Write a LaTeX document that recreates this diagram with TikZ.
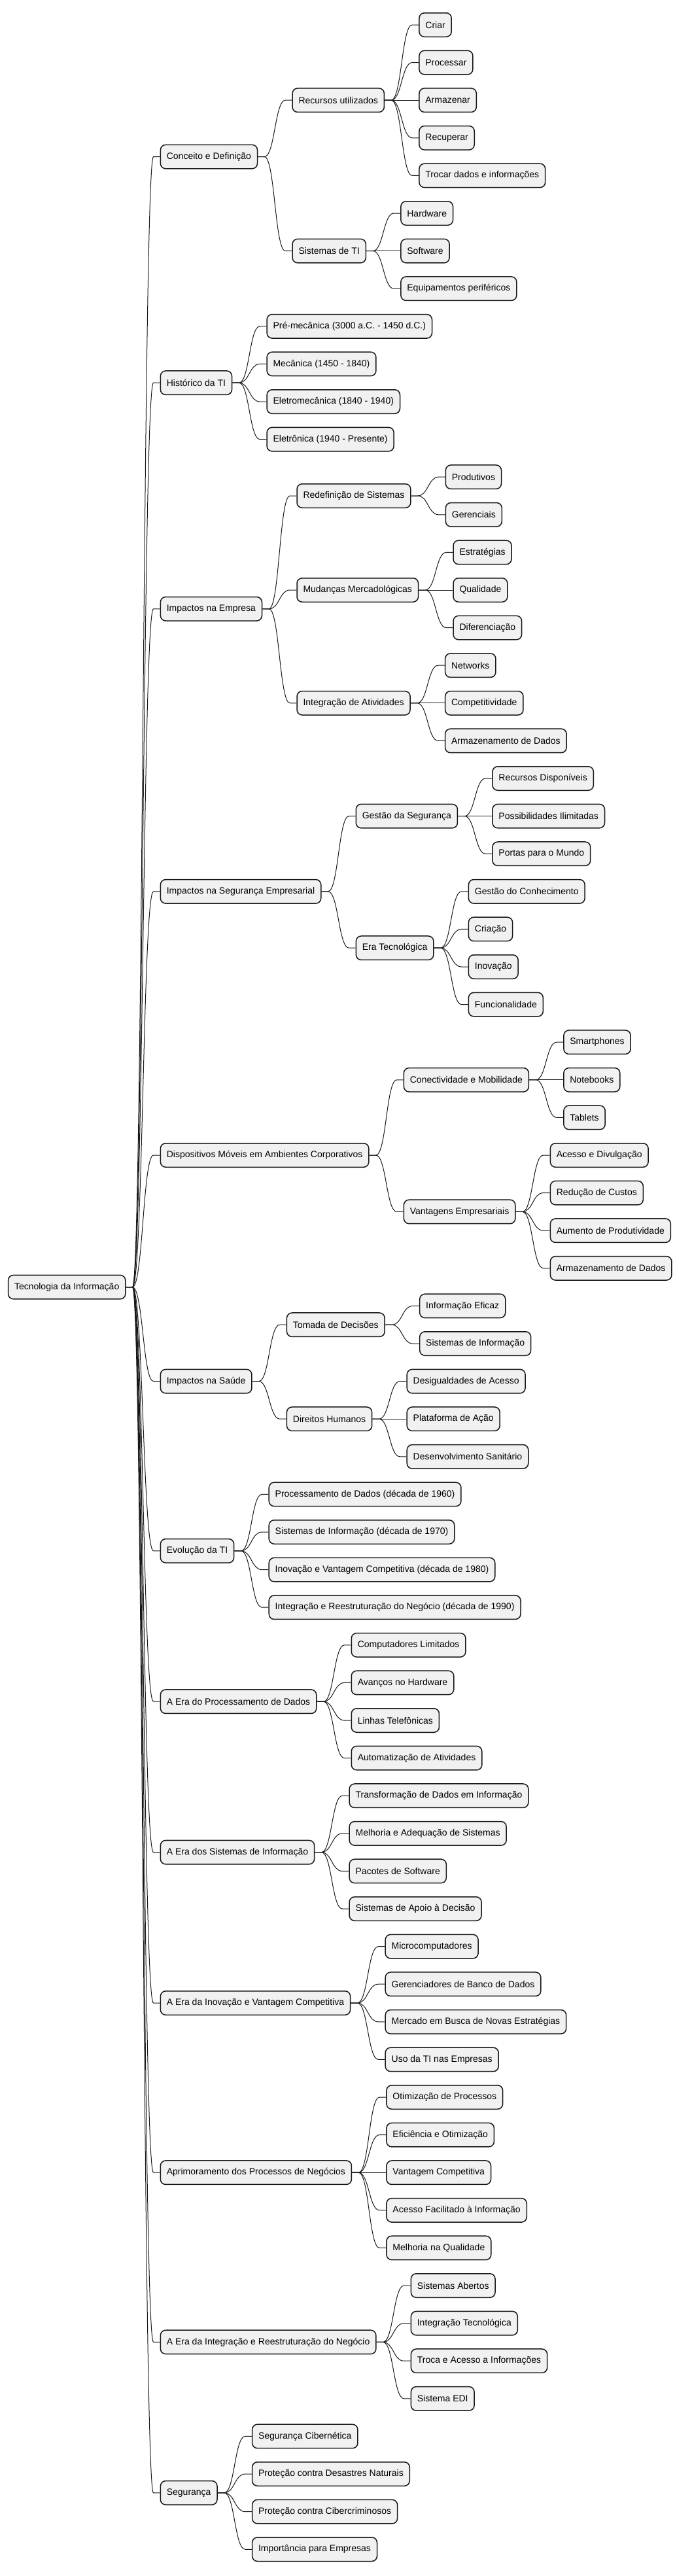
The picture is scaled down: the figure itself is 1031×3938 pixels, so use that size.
\documentclass[tikz,border=0pt]{standalone}
\usepackage{fontspec}
\setmainfont{Liberation Sans}
\usetikzlibrary{calc}
\definecolor{mmfill}{HTML}{F1F1F1}
\definecolor{mmline}{HTML}{181818}
\tikzset{
  box/.style={draw=mmline, fill=mmfill, line width=1.5pt, rounded corners=8pt,
    minimum height=36.5pt, inner xsep=9.5pt, inner ysep=0pt, anchor=west,
    font=\fontsize{14pt}{16pt}\selectfont},
  conn/.style={draw=mmline, line width=1pt}
}
\newcommand\mmkid[4]{%
  \path let \p1=(#1.east) in node[box] (#2) at (\x1+52pt,{-(38+57.6*#3)*1pt}) {#4};
  \draw[conn] (#1.east) -- ++(10pt,0) .. controls +(16pt,0) and +(-16pt,0) .. ([xshift=-10pt]#2.west) -- (#2.west);
}
\begin{document}
\begin{tikzpicture}
\useasboundingbox (0,0) rectangle (1031pt,-3938pt);
\node[box] (root) at (11.75pt,{-(38+57.6*33.5)*1pt}) {Tecnologia da Informação};
% A
\mmkid{root}{a}{3.5}{Conceito e Definição}
\mmkid{a}{a1}{2}{Recursos utilizados}
\mmkid{a1}{a11}{0}{Criar}
\mmkid{a1}{a12}{1}{Processar}
\mmkid{a1}{a13}{2}{Armazenar}
\mmkid{a1}{a14}{3}{Recuperar}
\mmkid{a1}{a15}{4}{Trocar dados e informações}
\mmkid{a}{a2}{6}{Sistemas de TI}
\mmkid{a2}{a21}{5}{Hardware}
\mmkid{a2}{a22}{6}{Software}
\mmkid{a2}{a23}{7}{Equipamentos periféricos}
% B
\mmkid{root}{b}{9.5}{Histórico da TI}
\mmkid{b}{b1}{8}{Pré-mecânica (3000 a.C. - 1450 d.C.)}
\mmkid{b}{b2}{9}{Mecânica (1450 - 1840)}
\mmkid{b}{b3}{10}{Eletromecânica (1840 - 1940)}
\mmkid{b}{b4}{11}{Eletrônica (1940 - Presente)}
% C
\mmkid{root}{c}{15.5}{Impactos na Empresa}
\mmkid{c}{c1}{12.5}{Redefinição de Sistemas}
\mmkid{c1}{c11}{12}{Produtivos}
\mmkid{c1}{c12}{13}{Gerenciais}
\mmkid{c}{c2}{15}{Mudanças Mercadológicas}
\mmkid{c2}{c21}{14}{Estratégias}
\mmkid{c2}{c22}{15}{Qualidade}
\mmkid{c2}{c23}{16}{Diferenciação}
\mmkid{c}{c3}{18}{Integração de Atividades}
\mmkid{c3}{c31}{17}{Networks}
\mmkid{c3}{c32}{18}{Competitividade}
\mmkid{c3}{c33}{19}{Armazenamento de Dados}
% D
\mmkid{root}{d}{23}{Impactos na Segurança Empresarial}
\mmkid{d}{d1}{21}{Gestão da Segurança}
\mmkid{d1}{d11}{20}{Recursos Disponíveis}
\mmkid{d1}{d12}{21}{Possibilidades Ilimitadas}
\mmkid{d1}{d13}{22}{Portas para o Mundo}
\mmkid{d}{d2}{24.5}{Era Tecnológica}
\mmkid{d2}{d21}{23}{Gestão do Conhecimento}
\mmkid{d2}{d22}{24}{Criação}
\mmkid{d2}{d23}{25}{Inovação}
\mmkid{d2}{d24}{26}{Funcionalidade}
% E
\mmkid{root}{e}{30}{Dispositivos Móveis em Ambientes Corporativos}
\mmkid{e}{e1}{28}{Conectividade e Mobilidade}
\mmkid{e1}{e11}{27}{Smartphones}
\mmkid{e1}{e12}{28}{Notebooks}
\mmkid{e1}{e13}{29}{Tablets}
\mmkid{e}{e2}{31.5}{Vantagens Empresariais}
\mmkid{e2}{e21}{30}{Acesso e Divulgação}
\mmkid{e2}{e22}{31}{Redução de Custos}
\mmkid{e2}{e23}{32}{Aumento de Produtividade}
\mmkid{e2}{e24}{33}{Armazenamento de Dados}
% F
\mmkid{root}{f}{36}{Impactos na Saúde}
\mmkid{f}{f1}{34.5}{Tomada de Decisões}
\mmkid{f1}{f11}{34}{Informação Eficaz}
\mmkid{f1}{f12}{35}{Sistemas de Informação}
\mmkid{f}{f2}{37}{Direitos Humanos}
\mmkid{f2}{f21}{36}{Desigualdades de Acesso}
\mmkid{f2}{f22}{37}{Plataforma de Ação}
\mmkid{f2}{f23}{38}{Desenvolvimento Sanitário}
% G
\mmkid{root}{g}{40.5}{Evolução da TI}
\mmkid{g}{g1}{39}{Processamento de Dados (década de 1960)}
\mmkid{g}{g2}{40}{Sistemas de Informação (década de 1970)}
\mmkid{g}{g3}{41}{Inovação e Vantagem Competitiva (década de 1980)}
\mmkid{g}{g4}{42}{Integração e Reestruturação do Negócio (década de 1990)}
% H
\mmkid{root}{h}{44.5}{A Era do Processamento de Dados}
\mmkid{h}{h1}{43}{Computadores Limitados}
\mmkid{h}{h2}{44}{Avanços no Hardware}
\mmkid{h}{h3}{45}{Linhas Telefônicas}
\mmkid{h}{h4}{46}{Automatização de Atividades}
% I
\mmkid{root}{i}{48.5}{A Era dos Sistemas de Informação}
\mmkid{i}{i1}{47}{Transformação de Dados em Informação}
\mmkid{i}{i2}{48}{Melhoria e Adequação de Sistemas}
\mmkid{i}{i3}{49}{Pacotes de Software}
\mmkid{i}{i4}{50}{Sistemas de Apoio à Decisão}
% J
\mmkid{root}{j}{52.5}{A Era da Inovação e Vantagem Competitiva}
\mmkid{j}{j1}{51}{Microcomputadores}
\mmkid{j}{j2}{52}{Gerenciadores de Banco de Dados}
\mmkid{j}{j3}{53}{Mercado em Busca de Novas Estratégias}
\mmkid{j}{j4}{54}{Uso da TI nas Empresas}
% K
\mmkid{root}{k}{57}{Aprimoramento dos Processos de Negócios}
\mmkid{k}{k1}{55}{Otimização de Processos}
\mmkid{k}{k2}{56}{Eficiência e Otimização}
\mmkid{k}{k3}{57}{Vantagem Competitiva}
\mmkid{k}{k4}{58}{Acesso Facilitado à Informação}
\mmkid{k}{k5}{59}{Melhoria na Qualidade}
% L
\mmkid{root}{l}{61.5}{A Era da Integração e Reestruturação do Negócio}
\mmkid{l}{l1}{60}{Sistemas Abertos}
\mmkid{l}{l2}{61}{Integração Tecnológica}
\mmkid{l}{l3}{62}{Troca e Acesso a Informações}
\mmkid{l}{l4}{63}{Sistema EDI}
% M
\mmkid{root}{m}{65.5}{Segurança}
\mmkid{m}{m1}{64}{Segurança Cibernética}
\mmkid{m}{m2}{65}{Proteção contra Desastres Naturais}
\mmkid{m}{m3}{66}{Proteção contra Cibercriminosos}
\mmkid{m}{m4}{67}{Importância para Empresas}
\end{tikzpicture}
\end{document}
